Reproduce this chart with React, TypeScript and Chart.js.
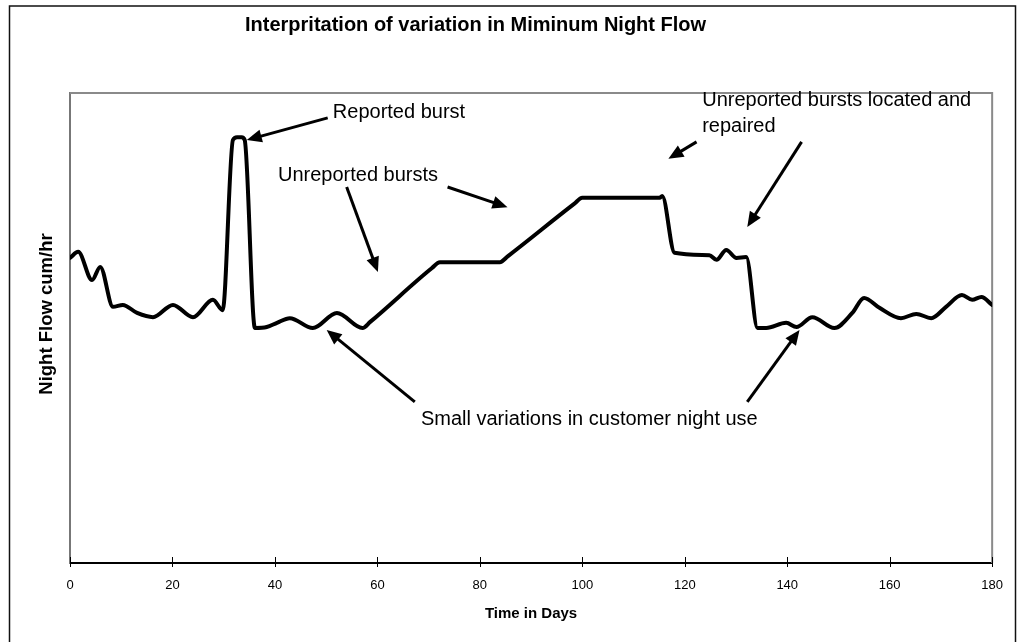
import React, { useEffect, useRef } from "react";
import { Chart, registerables } from "chart.js";

Chart.register(...registerables);

// ---- data ----
const days: number[] = [
  0, 1.6, 4.3, 5.9, 8.4, 10.3, 13.1, 16.2, 20.1, 24.0, 27.9, 29.8, 31.8, 32.6, 33.5, 34.1,
  36.1, 38.4, 40.4, 42.9, 47.4, 52.1, 57.1, 58.6, 70.6, 72.2, 83.9, 85.5, 98.4, 100.0, 115.1, 115.6, 118.0, 124.8,
  126.2, 128.1, 130.1, 132.0, 134.2, 135.9, 139.8, 141.8, 144.9, 149.2, 152.7, 155.0, 158.0,
  162.2, 165.2, 168.1, 171.0, 174.1, 176.1, 177.9, 180,
];
const nightFlow: number[] = [
  64.9, 66.2, 60.2, 63.0, 54.5, 54.9, 53.2, 52.3, 54.9, 52.3, 56.0, 53.8, 90.0, 90.6, 90.6, 90.0,
  50.0, 50.2, 51.1, 52.1, 50.0, 53.2, 50.0, 51.3, 62.7, 64.0, 64.0, 65.3, 76.4, 77.7, 77.7, 78.1, 66.0, 65.5,
  64.5, 66.6, 64.9, 65.1, 50.0, 50.0, 51.1, 50.2, 52.3, 50.0, 53.2, 56.4, 54.3,
  52.1, 53.0, 52.1, 54.5, 57.0, 56.0, 56.6, 54.9,
];
const xTicks: number[] = [0, 20, 40, 60, 80, 100, 120, 140, 160, 180];

const titleText = "Interpritation of variation in Miminum Night Flow";
const xTitle = "Time in Days";
const yTitle = "Night Flow cum/hr";

// annotation texts: [text, day, value(baseline)]
const noteTexts: [string, number, number][] = [
  ["Reported burst", 51.3, 94.7],
  ["Unreported bursts", 40.6, 81.3],
  ["Unreported bursts located and", 123.4, 97.2],
  ["repaired", 123.4, 91.7],
  ["Small variations in customer night use", 68.5, 29.4],
];
// arrows: [fromDay, fromVal, toDay, toVal]
const noteArrows: [number, number, number, number][] = [
  [50.3, 94.7, 34.5, 90.0],
  [54.0, 80.0, 60.1, 61.9],
  [73.7, 80.0, 85.4, 75.7],
  [122.3, 89.6, 116.8, 86.0],
  [142.8, 89.6, 132.2, 71.5],
  [67.3, 34.3, 50.1, 49.6],
  [132.2, 34.3, 142.4, 49.6],
];

const FONT = "'Liberation Sans', Arial, Helvetica, sans-serif";

function drawArrow(ctx: CanvasRenderingContext2D, x1: number, y1: number, x2: number, y2: number) {
  const head = 15;
  const hw = 6.5;
  const ang = Math.atan2(y2 - y1, x2 - x1);
  const c = Math.cos(ang), s = Math.sin(ang);
  const bx = x2 - head * c, by = y2 - head * s;
  ctx.beginPath();
  ctx.moveTo(x1, y1);
  ctx.lineTo(bx + c * 2, by + s * 2);
  ctx.lineWidth = 3;
  ctx.strokeStyle = "#000";
  ctx.lineCap = "butt";
  ctx.stroke();
  ctx.beginPath();
  ctx.moveTo(x2, y2);
  ctx.lineTo(bx + hw * s, by - hw * c);
  ctx.lineTo(bx - hw * s, by + hw * c);
  ctx.closePath();
  ctx.fillStyle = "#000";
  ctx.fill();
}

const decorPlugin = {
  id: "decor",
  beforeDraw(chart: any) {
    const ctx = chart.ctx;
    ctx.save();
    ctx.fillStyle = "#fff";
    ctx.fillRect(0, 0, chart.width, chart.height);
    ctx.restore();
  },
  beforeDatasetsDraw(chart: any) {
    const { ctx, chartArea } = chart;
    const { left, top, right, bottom } = chartArea;
    ctx.save();
    ctx.strokeStyle = "#8a8a8a";
    ctx.lineWidth = 2;
    ctx.beginPath();
    ctx.moveTo(left, top);
    ctx.lineTo(right, top);
    ctx.lineTo(right, bottom);
    ctx.stroke();
    // x ticks crossing the axis
    const xs = chart.scales.x;
    ctx.strokeStyle = "#000";
    ctx.lineWidth = 1;
    xs.ticks.forEach((t: any) => {
      const px = Math.round(xs.getPixelForValue(t.value)) + 0.5;
      ctx.beginPath();
      ctx.moveTo(px, bottom - 6);
      ctx.lineTo(px, bottom + 4);
      ctx.stroke();
    });
    ctx.restore();
  },
  afterDraw(chart: any) {
    const { ctx, chartArea } = chart;
    const xs = chart.scales.x;
    const ys = chart.scales.y;
    ctx.save();
    // title
    ctx.fillStyle = "#000";
    ctx.font = `bold 20px ${FONT}`;
    ctx.textAlign = "left";
    ctx.textBaseline = "alphabetic";
    ctx.fillText(titleText, 245, 31);
    // x title
    ctx.font = `bold 15px ${FONT}`;
    ctx.textAlign = "center";
    ctx.fillText(xTitle, (chartArea.left + chartArea.right) / 2, 618);
    // y title
    ctx.save();
    ctx.translate(52, 314);
    ctx.rotate(-Math.PI / 2);
    ctx.font = `bold 18.5px ${FONT}`;
    ctx.textAlign = "center";
    ctx.fillText(yTitle, 0, 0);
    ctx.restore();
    // annotation texts
    ctx.font = `20px ${FONT}`;
    ctx.textAlign = "left";
    ctx.textBaseline = "alphabetic";
    noteTexts.forEach(([t, d, v]) => {
      ctx.fillText(t, xs.getPixelForValue(d), ys.getPixelForValue(v));
    });
    // arrows
    noteArrows.forEach(([d1, v1, d2, v2]) => {
      drawArrow(
        ctx,
        xs.getPixelForValue(d1), ys.getPixelForValue(v1),
        xs.getPixelForValue(d2), ys.getPixelForValue(v2)
      );
    });
    // outer frame
    ctx.strokeStyle = "#111";
    ctx.lineWidth = 1.5;
    ctx.strokeRect(9.5, 6, 1006, 700);
    ctx.restore();
  },
};

export default function App() {
  const ref = useRef<HTMLCanvasElement | null>(null);
  useEffect(() => {
    document.body.style.margin = "0";
    const canvas = ref.current;
    if (!canvas) return;
    const chart = new Chart(canvas, {
      type: "line",
      data: {
        datasets: [
          {
            label: "Night Flow",
            data: days.map((d, i) => ({ x: d, y: nightFlow[i] })),
            borderColor: "#000",
            borderWidth: 4,
            pointRadius: 0,
            fill: false,
            tension: 0.4,
            cubicInterpolationMode: "monotone",
            borderJoinStyle: "round",
            borderCapStyle: "round",
          } as any,
        ],
      },
      options: {
        responsive: false,
        animation: false,
        devicePixelRatio: 1,
        layout: { padding: { top: 93, right: 25, left: 0, bottom: 0 } },
        plugins: {
          legend: { display: false },
          tooltip: { enabled: false },
          title: { display: false },
        },
        scales: {
          x: {
            type: "linear",
            min: 0,
            max: 180,
            afterBuildTicks: (scale: any) => {
              scale.ticks = xTicks.map((v) => ({ value: v }));
            },
            afterFit: (scale: any) => {
              scale.height = 79;
            },
            grid: { display: false, drawTicks: false },
            border: { display: true, color: "#000", width: 2 },
            ticks: {
              color: "#000",
              font: { family: FONT, size: 13 },
              padding: 15,
              maxRotation: 0,
              autoSkip: false,
            },
          },
          y: {
            type: "linear",
            min: 0,
            max: 100,
            afterFit: (scale: any) => {
              scale.width = 70;
            },
            grid: { display: false, drawTicks: false },
            border: { display: true, color: "#777", width: 2 },
            ticks: { display: false },
          },
        },
      },
      plugins: [decorPlugin],
    });
    return () => chart.destroy();
  }, []);
  return (
    <div style={{ width: 1018, height: 642 }}>
      <canvas ref={ref} width={1018} height={642} style={{ display: "block" }} />
    </div>
  );
}
